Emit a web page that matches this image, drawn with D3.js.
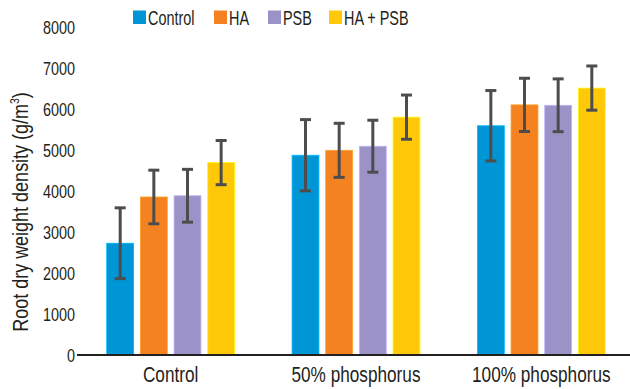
<!DOCTYPE html>
<html>
<head>
    <meta charset="utf-8" />
    <title>Root dry weight density</title>
    <style>
        body { margin: 0; background: #fff; }
        svg text { font-family: "Liberation Sans", Arial, Helvetica, sans-serif; fill: #231f20; }
    </style>
</head>
<body>
    <script src="https://d3js.org/d3.v7.min.js"></script>
    <script>
        // data
        let groups = ['Control', '50% phosphorus', '100% phosphorus']
        let series = ['Control', 'HA', 'PSB', 'HA + PSB']
        let colors = ['#0096d6', '#f58220', '#9b93c8', '#ffc90a']
        let means = [
            [2730, 3860, 3890, 4700],   // Control
            [4880, 5000, 5100, 5810],   // 50% phosphorus
            [5600, 6110, 6100, 6520]    // 100% phosphorus
        ]
        let errors = [
            [865, 655, 645, 540],
            [870, 660, 635, 540],
            [860, 650, 645, 540]
        ]
        let yTicks = [0, 1000, 2000, 3000, 4000, 5000, 6000, 7000, 8000]

        let width = 630, height = 389
        let squeeze = 0.8   // narrow look of the original type

        let svg = d3.select('body')
            .append('svg')
            .attr('width', width)
            .attr('height', height)

        let y = d3.scaleLinear()
            .domain([0, 8000])
            .range([355, 27.5])

        let x0 = d3.scaleBand()
            .domain(groups)
            .range([78, 634])
            .paddingInner(0.31)
            .paddingOuter(0.155)

        let x1 = d3.scaleBand()
            .domain(series)
            .range([0, x0.bandwidth()])
            .paddingInner(0.2)

        // y tick labels (no axis line, as in the original)
        svg.append('g')
            .selectAll('text')
            .data(yTicks)
            .enter()
                .append('text')
                .attr('transform', d => `translate(75, ${y(d) + 6.5}) scale(${squeeze}, 1)`)
                .attr('text-anchor', 'end')
                .attr('font-size', 18)
                .text(d => d)

        // bars
        let rows = groups.map((g, gi) => series.map((s, si) => ({
            group: g, key: s, i: si, value: means[gi][si], err: errors[gi][si]
        })))

        let groupG = svg.append('g')
            .selectAll('g')
            .data(rows)
            .enter()
                .append('g')
                .attr('transform', (d, i) => `translate(${x0(groups[i])}, 0)`)

        groupG.selectAll('rect')
            .data(d => d)
            .enter()
                .append('rect')
                .attr('x', d => x1(d.key))
                .attr('y', d => y(d.value))
                .attr('width', x1.bandwidth())
                .attr('height', d => y(0) - y(d.value))
                .attr('fill', d => colors[d.i])
                .attr('stroke', d => d3.color(colors[d.i]).brighter(0.6))
                .attr('stroke-width', 0.8)

        // error bars
        let errG = groupG.selectAll('g.err')
            .data(d => d)
            .enter()
                .append('g')
                .attr('class', 'err')
                .attr('stroke', '#4d4d4d')
                .attr('stroke-width', 3)

        let cx = d => x1(d.key) + x1.bandwidth() / 2
        errG.append('line')
            .attr('x1', cx).attr('x2', cx)
            .attr('y1', d => y(d.value + d.err))
            .attr('y2', d => y(d.value - d.err))
        errG.append('line')
            .attr('x1', d => cx(d) - 5.5).attr('x2', d => cx(d) + 5.5)
            .attr('y1', d => y(d.value + d.err))
            .attr('y2', d => y(d.value + d.err))
        errG.append('line')
            .attr('x1', d => cx(d) - 5.5).attr('x2', d => cx(d) + 5.5)
            .attr('y1', d => y(d.value - d.err))
            .attr('y2', d => y(d.value - d.err))

        // baseline
        svg.append('line')
            .attr('x1', 77).attr('x2', width)
            .attr('y1', y(0)).attr('y2', y(0))
            .attr('stroke', '#231f20')
            .attr('stroke-width', 2)

        // group labels
        svg.append('g')
            .selectAll('text')
            .data(groups)
            .enter()
                .append('text')
                .attr('transform', d => `translate(${x0(d) + x0.bandwidth() / 2}, 382) scale(${squeeze}, 1)`)
                .attr('text-anchor', 'middle')
                .attr('font-size', 21.5)
                .text(d => d)

        // y axis title
        let title = svg.append('text')
            .attr('transform', `translate(28, 212) rotate(-90) scale(${squeeze}, 1)`)
            .attr('text-anchor', 'middle')
            .attr('font-size', 22.5)
        title.append('tspan').text('Root dry weight density (g/m')
        title.append('tspan').attr('font-size', 13).attr('dy', -9).text('3')
        title.append('tspan').attr('dy', 9).text(')')

        // legend
        let legendX = [133, 214, 268, 329]
        let legend = svg.append('g')
            .selectAll('g')
            .data(series)
            .enter()
                .append('g')
                .attr('transform', (d, i) => `translate(${legendX[i]}, 10.5)`)
        legend.append('rect')
            .attr('width', 13)
            .attr('height', 13.5)
            .attr('fill', (d, i) => colors[i])
        legend.append('text')
            .attr('transform', 'translate(15, 14.5) scale(0.74, 1)')
            .attr('font-size', 19.5)
            .text(d => d)
    </script>
</body>
</html>
